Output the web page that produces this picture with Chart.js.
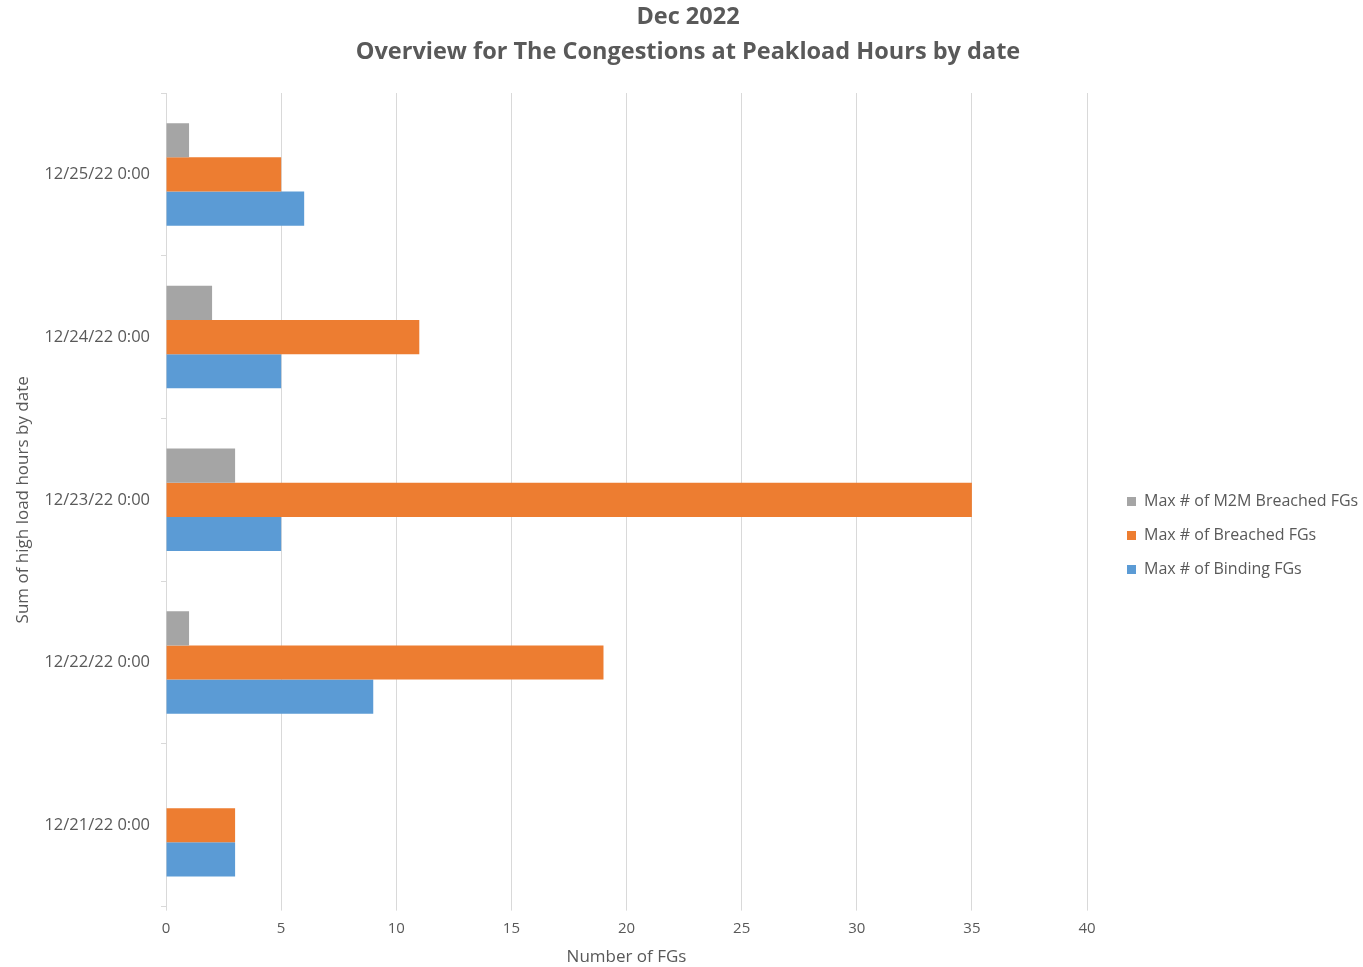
<!DOCTYPE html>
<html>
<head>
<meta charset="utf-8">
<script src="https://cdn.jsdelivr.net/npm/chart.js@4.4.0/dist/chart.umd.min.js"></script>
<style>
  html, body { margin: 0; padding: 0; background: #fff; }
  .chart-container { width: 1363px; height: 967px; }
</style>
</head>
<body>
<div class="chart-container">
  <canvas id="barChart" width="1363" height="967"></canvas>
</div>
<script>
// dates, top to bottom as in the picture
const dates = ['12/25/22 0:00', '12/24/22 0:00', '12/23/22 0:00', '12/22/22 0:00', '12/21/22 0:00']
const m2mBreached = [1, 2, 3, 1, 0]
const breached = [5, 11, 35, 19, 3]
const binding = [6, 5, 5, 9, 3]

const textColor = '#595959'
const fontFamily = "'Open Sans', 'Liberation Sans', sans-serif"

// push the legend a bit away from the plot
const legendShift = {
  id: 'legendShift',
  afterLayout(chart) {
    chart.legend.left += 22
    chart.legend.right += 22
  }
}

let ctx = document.getElementById('barChart')
let barChart = new Chart(ctx, {
  type: 'bar',
  data: {
    labels: dates,
    datasets: [
      { label: 'Max # of M2M Breached FGs', data: m2mBreached, backgroundColor: '#a5a5a5' },
      { label: 'Max # of Breached FGs', data: breached, backgroundColor: '#ed7d31' },
      { label: 'Max # of Binding FGs', data: binding, backgroundColor: '#5b9bd5' }
    ]
  },
  plugins: [legendShift],
  options: {
    indexAxis: 'y',
    responsive: false,
    animation: false,
    categoryPercentage: 0.63,
    barPercentage: 1.0,
    layout: { padding: { left: 13, right: 0, top: 0, bottom: 0 } },
    plugins: {
      title: {
        display: true,
        text: ['Dec 2022', 'Overview for The Congestions at Peakload Hours by date'],
        color: textColor,
        font: { family: fontFamily, size: 23.5, weight: 'bold', lineHeight: 1.49 },
        padding: { top: 0, bottom: 23 }
      },
      legend: {
        position: 'right',
        title: {
          display: true,
          text: ' ',
          font: { size: 10 },
          padding: { top: 0, bottom: 92 }
        },
        labels: {
          color: textColor,
          font: { family: fontFamily, size: 16 },
          boxWidth: 9,
          boxHeight: 9,
          padding: 18
        }
      },
      tooltip: { enabled: false }
    },
    scales: {
      x: {
        min: 0,
        max: 40,
        // keep the gap between plot and legend
        afterFit: (scale) => { scale.paddingRight = 276 },
        ticks: { stepSize: 5, color: textColor, font: { family: fontFamily, size: 15 }, padding: 9 },
        grid: { color: '#d9d9d9', tickLength: 4 },
        border: { display: false },
        title: {
          display: true,
          text: 'Number of FGs',
          color: textColor,
          font: { family: fontFamily, size: 17 },
          padding: { top: 0, bottom: 0 }
        }
      },
      y: {
        ticks: { color: textColor, font: { family: fontFamily, size: 16.5 }, padding: 11 },
        grid: { offset: true, drawOnChartArea: false, color: '#d9d9d9', tickLength: 5 },
        border: { color: '#d9d9d9' },
        title: {
          display: true,
          text: 'Sum of high load hours by date',
          color: textColor,
          font: { family: fontFamily, size: 17 },
          padding: { top: 0, bottom: 0 }
        }
      }
    }
  }
})
</script>
</body>
</html>
